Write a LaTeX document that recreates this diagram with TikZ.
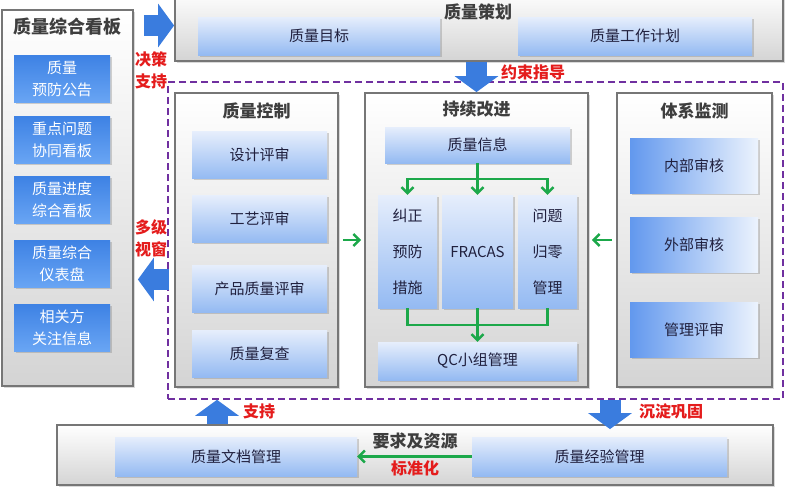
\documentclass[tikz,border=0pt]{standalone}
\usepackage{fontspec}
\setmainfont{Noto Sans CJK SC}
\usepackage{tikz}
\usetikzlibrary{arrows.meta,calc,shadows}
\usepackage{xcolor}

\definecolor{frameline}{RGB}{118,118,118}
\definecolor{panellow}{RGB}{212,212,212}
\definecolor{boxtop}{RGB}{230,238,252}
\definecolor{boxlow}{RGB}{148,186,242}
\definecolor{boardtop}{RGB}{62,130,228}
\definecolor{boardlow}{RGB}{105,165,244}
\definecolor{monleft}{RGB}{98,152,238}
\definecolor{monright}{RGB}{236,243,253}
\definecolor{fatblue}{RGB}{58,124,222}
\definecolor{flowgreen}{RGB}{28,168,74}
\definecolor{notered}{RGB}{228,28,28}
\definecolor{corepurple}{RGB}{112,48,160}
\definecolor{boxtext}{RGB}{32,32,62}
\definecolor{titletext}{RGB}{62,62,62}

\tikzset{
  panel/.style={draw=frameline, line width=1.8pt, top color=white, bottom color=panellow,
    inner sep=0pt, drop shadow={shadow xshift=2pt, shadow yshift=-2pt, opacity=0.3}},
  paneltitle/.style={font=\fontsize{17}{19}\selectfont\bfseries, text=titletext, inner sep=0pt},
  boardbox/.style={top color=boardtop, bottom color=boardlow, text=white, align=center, inner sep=0pt,
    minimum width=96, minimum height=47, font=\fontsize{15}{22}\selectfont,
    drop shadow={shadow xshift=1.5pt, shadow yshift=-1.5pt, opacity=0.35}},
  itembox/.style={top color=boxtop, bottom color=boxlow, text=boxtext, align=center, inner sep=0pt,
    font=\fontsize{15}{17}\selectfont,
    drop shadow={shadow xshift=1.5pt, shadow yshift=-1.5pt, opacity=0.35}},
  monbox/.style={itembox, left color=monleft, right color=monright,
    minimum width=128, minimum height=55},
  note/.style={text=notered, font=\fontsize{16}{22}\selectfont\bfseries, align=center, inner sep=0pt},
  fat/.style={draw=fatblue, line width=21pt, -{Triangle[width=43pt,length=16pt]}},
  flow/.style={draw=flowgreen, line width=2.4pt},
  flowarrow/.style={flow, -{Straight Barb[length=6pt,width=12pt]}}
}

\begin{document}
\begin{tikzpicture}[x=1pt,y=-1pt]
  \useasboundingbox (0,0) rectangle (788,490);

  % 质量综合看板
  \node[panel, minimum width=131, minimum height=376] (board) at (67.5,198) {};
  \node[paneltitle, font=\fontsize{18}{20}\selectfont\bfseries, below=9pt] (boardtitle) at (board.north) {质量综合看板};
  \node[boardbox] (notice) at (62,79) {质量\\预防公告};
  \node[boardbox] (issue) at (62,140) {重点问题\\协同看板};
  \node[boardbox] (progress) at (62,200) {质量进度\\综合看板};
  \node[boardbox] (dash) at (62,264) {质量综合\\仪表盘};
  \node[boardbox] (party) at (62,327.5) {相关方\\关注信息};

  % 质量策划
  \node[panel, minimum width=608, minimum height=71] (plan) at (479,25.5) {};
  \node[paneltitle] (plantitle) at (478,12) {质量策划};
  \node[itembox, minimum width=242, minimum height=38] (goal) at (319,36) {质量目标};
  \node[itembox, minimum width=234, minimum height=38] (work) at (635,36) {质量工作计划};

  % 核心区域
  \node[draw=corepurple, line width=1.6pt, dash pattern=on 7pt off 4pt, inner sep=0pt,
    minimum width=615, minimum height=317] (core) at (475.5,240.5) {};

  % 质量控制
  \node[panel, minimum width=163, minimum height=294] (ctrl) at (256.5,240) {};
  \node[paneltitle, below=10pt] (ctrltitle) at (ctrl.north) {质量控制};
  \node[itembox, minimum width=135, minimum height=47] (design) at (259.5,155) {设计评审};
  \node[itembox, minimum width=135, minimum height=47] (craft) at (259.5,219) {工艺评审};
  \node[itembox, minimum width=135, minimum height=47] (product) at (259.5,288.5) {产品质量评审};
  \node[itembox, minimum width=135, minimum height=47] (recheck) at (259.5,353.5) {质量复查};

  % 持续改进
  \node[panel, minimum width=223, minimum height=294] (impr) at (476.5,240) {};
  \node[paneltitle, below=9pt] (imprtitle) at (impr.north) {持续改进};
  \node[itembox, minimum width=185, minimum height=36] (info) at (477.5,145) {质量信息};
  \node[itembox, minimum width=59, minimum height=113, font=\fontsize{15}{36}\selectfont] (cap) at (407.5,251.5) {纠正\\预防\\措施};
  \node[itembox, minimum width=71, minimum height=113] (fra) at (477.5,251.5) {FRACAS};
  \node[itembox, minimum width=59, minimum height=113, font=\fontsize{15}{36}\selectfont] (zero) at (547.5,251.5) {问题\\归零\\管理};
  \node[itembox, minimum width=199, minimum height=38] (qc) at (477.5,361) {QC小组管理};

  % 体系监测
  \node[panel, minimum width=155, minimum height=294] (mon) at (694.5,240) {};
  \node[paneltitle, below=10pt] (montitle) at (mon.north) {体系监测};
  \node[monbox] (inaudit) at (694,165.5) {内部审核};
  \node[monbox] (outaudit) at (694,244.5) {外部审核};
  \node[monbox] (review) at (694,330) {管理评审};

  % 要求及资源
  \node[panel, minimum width=716, minimum height=60] (res) at (415,455) {};
  \node[paneltitle] (restitle) at (415,441) {要求及资源};
  \node[itembox, minimum width=242, minimum height=39] (doc) at (236,456.5) {质量文档管理};
  \node[itembox, minimum width=255, minimum height=39] (exp) at (599.5,456.5) {质量经验管理};

  % 持续改进内部流向
  \coordinate (split) at ($(info.south)!0.5!(fra.north)$);
  \coordinate (join) at ($(fra.south)!0.5!(qc.north)$);
  \draw[flowarrow] (info.south) -- (fra.north);
  \draw[flowarrow] (split) -| (cap.north);
  \draw[flowarrow] (split) -| (zero.north);
  \draw[flow] (cap.south) |- (join) -| (zero.south);
  \draw[flowarrow] (fra.south) -- (qc.north);
  \draw[flowarrow, shorten <=4pt, shorten >=3pt] (ctrl.east) -- (impr.west);
  \draw[flowarrow, shorten <=4pt, shorten >=3pt] (mon.west) -- (impr.east);
  \draw[flowarrow] (exp.west) -- (doc.east);

  % 粗箭头
  \coordinate (mv) at ([yshift=-39pt]core.west);
  \coordinate (sp) at ([xshift=-198pt]res.north);
  \coordinate (cd) at ([xshift=195pt]res.north);
  \draw[fat, shorten <=10pt] (board.east |- plan.west) -- (plan.west);
  \draw[fat] (impr.north |- plan.south) -- (impr.north);
  \draw[fat, shorten >=4pt] ([xshift=2pt]mv) -- (board.east |- mv);
  \draw[fat] (sp) -- (sp |- core.south);
  \draw[fat] (cd |- core.south) -- ([yshift=-5pt]cd);

  % 标注
  \node[note] (decide) at (151,70) {决策\\支持};
  \node[note] (guide) at (533,72) {约束指导};
  \node[note] (window) at (151,238) {多级\\视窗};
  \node[note] (support) at (259,411) {支持};
  \node[note] (settle) at (671,411) {沉淀巩固};
  \node[note] (standard) at (415,468) {标准化};
\end{tikzpicture}
\end{document}
